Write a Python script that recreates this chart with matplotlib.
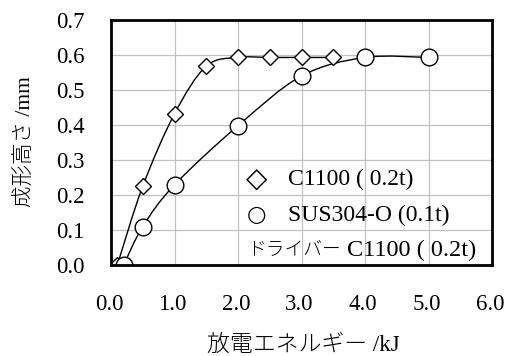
import numpy as np
import matplotlib.pyplot as plt
from matplotlib.path import Path
from matplotlib.patches import PathPatch
from matplotlib.transforms import ScaledTranslation

plt.rcParams['font.family'] = ['Liberation Serif', 'Noto Sans CJK JP', 'DejaVu Sans']

# C1100 (0.2t)
x_cu = [0.1, 0.5, 1.0, 1.5, 2.0, 2.5, 3.0, 3.5]
y_cu = [0.0, 0.225, 0.432, 0.568, 0.593, 0.593, 0.593, 0.593]
# SUS304-O (0.1t)
x_sus = [0.2, 0.5, 1.0, 2.0, 3.0, 4.0, 5.0]
y_sus = [0.0, 0.11, 0.229, 0.398, 0.54, 0.593, 0.593]

xticks = [0, 1, 2, 3, 4, 5, 6]
yticks = [0.0, 0.1, 0.2, 0.3, 0.4, 0.5, 0.6, 0.7]
legend_lines = ['C1100 ( 0.2t)', 'SUS304-O (0.1t)', 'ドライバー', 'C1100 ( 0.2t)']


def smooth_path(xs, ys):
    # Excel風のスムージング線 (ベジェ曲線)
    p = np.column_stack([xs, ys])
    n = len(p)
    verts = [p[0]]
    codes = [Path.MOVETO]
    for i in range(n - 1):
        p0 = p[i - 1] if i > 0 else p[i]
        p3 = p[i + 2] if i + 2 < n else p[i + 1]
        c1 = p[i] + (p[i + 1] - p0) / 6
        c2 = p[i + 1] - (p3 - p[i]) / 6
        verts += [c1, c2, p[i + 1]]
        codes += [Path.CURVE4] * 3
    return Path(verts, codes)


fig = plt.figure(figsize=(5.05, 3.56), dpi=100)
ax = fig.add_axes([111 / 505, 1 - 265 / 356, 381 / 505, 245 / 356])

for xs, ys in [(x_cu, y_cu), (x_sus, y_sus)]:
    ax.add_patch(PathPatch(smooth_path(xs, ys), fill=False, edgecolor='black', lw=1.0, zorder=3))

ax.plot(x_cu, y_cu, linestyle='none', marker='D', ms=8.5, mfc='white', mec='black', mew=1.0, zorder=4)
ax.plot(x_sus, y_sus, linestyle='none', marker='o', ms=12, mfc='white', mec='black', mew=1.0, zorder=4)

ax.set_xlim(0, 6)
ax.set_ylim(0, 0.7)
ax.set_xticks(xticks)
ax.set_yticks(yticks)
ax.set_xticklabels([f'{v:.1f}' for v in xticks])
ax.set_yticklabels([f'{v:.1f}' for v in yticks])
ax.tick_params(length=0, labelsize=16.5)
ax.tick_params(axis='x', pad=21)
ax.tick_params(axis='y', pad=19)
shift = ScaledTranslation(-2 / 100, 0, fig.dpi_scale_trans)
for lab in ax.get_xticklabels():
    lab.set_transform(lab.get_transform() + shift)
ax.grid(color='#c0c0c0', linewidth=0.9)
ax.set_axisbelow(True)
for s in ax.spines.values():
    s.set_linewidth(2.0)
    s.set_zorder(5)

# 凡例 (テキストボックス)
ax.text(0.355, 0.351, '◇', transform=ax.transAxes, fontsize=20, va='center', ha='left',
        family=['DejaVu Sans'])
ax.text(0.465, 0.351, legend_lines[0], transform=ax.transAxes, fontsize=17, va='center', ha='left')
ax.text(0.357, 0.204, '○', transform=ax.transAxes, fontsize=16, va='center', ha='left',
        family=['DejaVu Sans'])
ax.text(0.465, 0.204, legend_lines[1], transform=ax.transAxes, fontsize=17, va='center', ha='left')
ax.text(0.357, 0.061, legend_lines[2], transform=ax.transAxes, fontsize=13.5, va='center', ha='left',
        family=['Noto Sans CJK JP'], fontweight='light')
ax.text(0.619, 0.061, legend_lines[3], transform=ax.transAxes, fontsize=17.5, va='center', ha='left')

fig.text(303 / 505, 1 - 345 / 356, '放電エネルギー /kJ', fontsize=16.5, ha='center', va='center',
         fontweight='light')
fig.text(25 / 505, 1 - 142 / 356, '成形高さ /mm', fontsize=15.5, ha='center', va='center', rotation=90,
         fontweight='light')

fig.savefig('out.png', dpi=100)
